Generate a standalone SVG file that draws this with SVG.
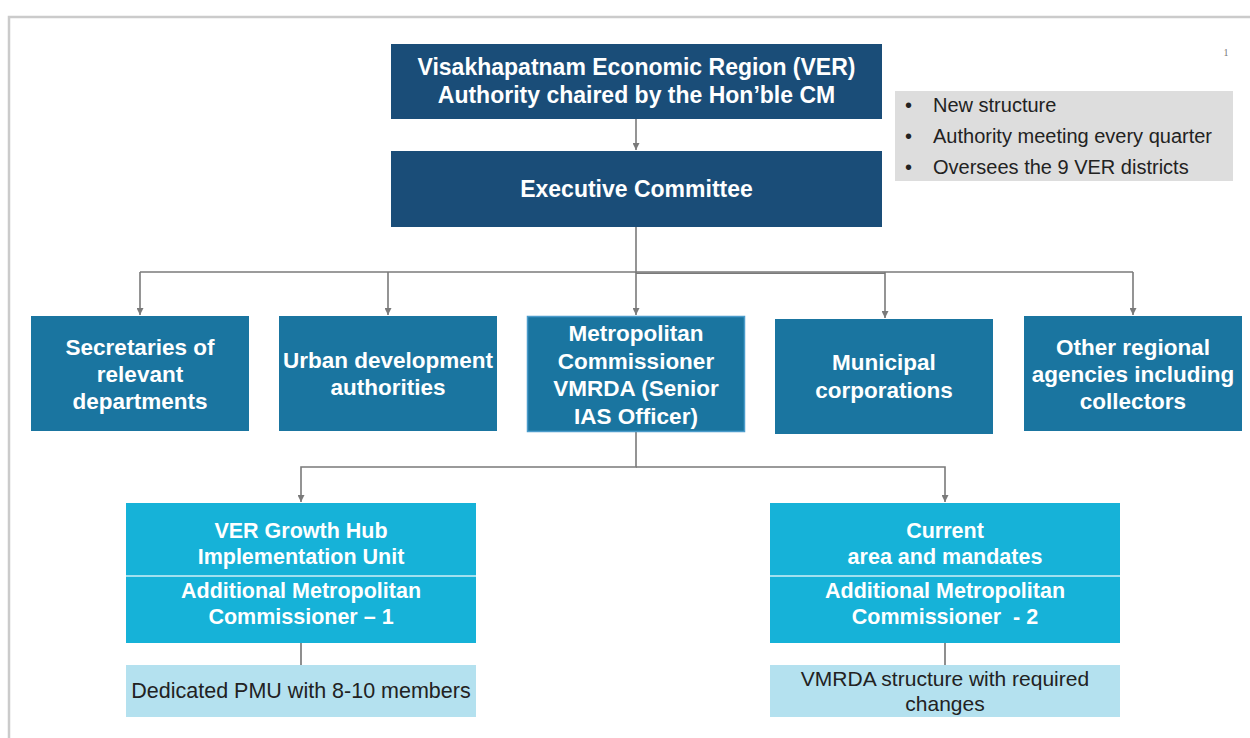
<svg xmlns="http://www.w3.org/2000/svg" width="1250" height="738" viewBox="0 0 1250 738">
<defs>
<style>
.t{font-family:"Liberation Sans",Arial,sans-serif;font-weight:bold;fill:#ffffff;text-anchor:middle}
.r{font-family:"Liberation Sans",Arial,sans-serif;fill:#222222}
.c{fill:none;stroke:#7a7a7a;stroke-width:1.6}
.navy{fill:#1a4d78}
.blue{fill:#1a75a0}
.cyan{fill:#16b2d8}
.pale{fill:#b4e1ef}
</style>
<marker id="ah" viewBox="0 0 10 10" refX="10" refY="5" markerWidth="7" markerHeight="7" markerUnits="userSpaceOnUse" orient="auto">
<path d="M0,0 L10,5 L0,10 z" fill="#7a7a7a"/>
</marker>
</defs>
<rect x="0" y="0" width="1250" height="738" fill="#ffffff"/>
<rect x="9" y="17" width="1300" height="800" fill="#ffffff" stroke="#cbcbcb" stroke-width="2.5"/>
<text x="1226" y="56" font-family="Liberation Serif,serif" font-size="10" fill="#777777" text-anchor="middle">1</text>

<g id="connectors">
<line class="c" x1="636" y1="119" x2="636" y2="150" marker-end="url(#ah)"/>
<line class="c" x1="636" y1="227" x2="636" y2="273" stroke-width="3"/>
<line class="c" x1="140" y1="272" x2="1133" y2="272"/>
<line class="c" x1="636" y1="273.3" x2="885" y2="273.3" stroke-width="1.6"/>
<line class="c" x1="140" y1="272" x2="140" y2="315" marker-end="url(#ah)"/>
<line class="c" x1="388" y1="272" x2="388" y2="315" marker-end="url(#ah)"/>
<line class="c" x1="636" y1="272" x2="636" y2="315" marker-end="url(#ah)"/>
<line class="c" x1="885" y1="272" x2="885" y2="318" marker-end="url(#ah)"/>
<line class="c" x1="1133" y1="272" x2="1133" y2="315" marker-end="url(#ah)"/>
<polyline class="c" points="636,432 636,467 301,467 301,502" marker-end="url(#ah)"/>
<polyline class="c" points="636,467 945,467 945,502" marker-end="url(#ah)"/>
<line x1="301" y1="643" x2="301" y2="665" stroke="#444444" stroke-width="1.2"/>
<line x1="945" y1="643" x2="945" y2="665" stroke="#444444" stroke-width="1.2"/>
</g>

<g id="ver-authority">
<rect class="navy" x="391" y="44" width="491" height="75"/>
<text class="t" font-size="23" x="636.5" y="75">Visakhapatnam Economic Region (VER)</text>
<text class="t" font-size="23" x="636.5" y="103">Authority chaired by the Hon’ble CM</text>
</g>

<g id="notes">
<rect x="895" y="91" width="338" height="90" fill="#dddddd"/>
<text class="r" font-size="20" x="905" y="112">•</text>
<text class="r" font-size="20" x="933" y="112">New structure</text>
<text class="r" font-size="20" x="905" y="143">•</text>
<text class="r" font-size="20" x="933" y="143">Authority meeting every quarter</text>
<text class="r" font-size="20" x="905" y="174">•</text>
<text class="r" font-size="20" x="933" y="174">Oversees the 9 VER districts</text>
</g>

<g id="executive-committee">
<rect class="navy" x="391" y="151" width="491" height="76"/>
<text class="t" font-size="23" x="636.5" y="197">Executive Committee</text>
</g>

<g id="secretaries">
<rect class="blue" x="31" y="316" width="218" height="115"/>
<text class="t" font-size="22.5" x="140" y="355">Secretaries of</text>
<text class="t" font-size="22.5" x="140" y="382">relevant</text>
<text class="t" font-size="22.5" x="140" y="409">departments</text>
</g>

<g id="urban-development">
<rect class="blue" x="279" y="316" width="218" height="115"/>
<text class="t" font-size="22.5" x="388" y="368">Urban development</text>
<text class="t" font-size="22.5" x="388" y="395">authorities</text>
</g>

<g id="metropolitan-commissioner">
<rect class="blue" x="527.5" y="316.5" width="217" height="115" stroke="#4b9ccb" stroke-width="1.5"/>
<text class="t" font-size="22.5" x="636" y="341">Metropolitan</text>
<text class="t" font-size="22.5" x="636" y="368.5">Commissioner</text>
<text class="t" font-size="22.5" x="636" y="396">VMRDA (Senior</text>
<text class="t" font-size="22.5" x="636" y="423.5">IAS Officer)</text>
</g>

<g id="municipal-corporations">
<rect class="blue" x="775" y="319" width="218" height="115"/>
<text class="t" font-size="22.5" x="884" y="370">Municipal</text>
<text class="t" font-size="22.5" x="884" y="398">corporations</text>
</g>

<g id="other-agencies">
<rect class="blue" x="1024" y="316" width="218" height="115"/>
<text class="t" font-size="22.5" x="1133" y="355">Other regional</text>
<text class="t" font-size="22.5" x="1133" y="382">agencies including</text>
<text class="t" font-size="22.5" x="1133" y="409">collectors</text>
</g>

<g id="growth-hub-unit">
<rect class="cyan" x="126" y="503" width="350" height="140"/>
<line x1="126" y1="576" x2="476" y2="576" stroke="#ffffff" stroke-opacity="0.6" stroke-width="2"/>
<text class="t" font-size="21.5" x="301" y="538">VER Growth Hub</text>
<text class="t" font-size="21.5" x="301" y="564">Implementation Unit</text>
<text class="t" font-size="21.5" x="301" y="598">Additional Metropolitan</text>
<text class="t" font-size="21.5" x="301" y="624">Commissioner – 1</text>
</g>

<g id="pmu">
<rect class="pale" x="126" y="665" width="350" height="52"/>
<text class="r" font-size="21.5" x="301" y="698" text-anchor="middle">Dedicated PMU with 8-10 members</text>
</g>

<g id="current-area">
<rect class="cyan" x="770" y="503" width="350" height="140"/>
<line x1="770" y1="576" x2="1120" y2="576" stroke="#ffffff" stroke-opacity="0.6" stroke-width="2"/>
<text class="t" font-size="21.5" x="945" y="538">Current</text>
<text class="t" font-size="21.5" x="945" y="564">area and mandates</text>
<text class="t" font-size="21.5" x="945" y="598">Additional Metropolitan</text>
<text class="t" font-size="21.5" x="945" y="624" xml:space="preserve">Commissioner  - 2</text>
</g>

<g id="vmrda-structure">
<rect class="pale" x="770" y="665" width="350" height="52"/>
<text class="r" font-size="21" x="945" y="686" text-anchor="middle">VMRDA structure with required</text>
<text class="r" font-size="21" x="945" y="711" text-anchor="middle">changes</text>
</g>
</svg>
